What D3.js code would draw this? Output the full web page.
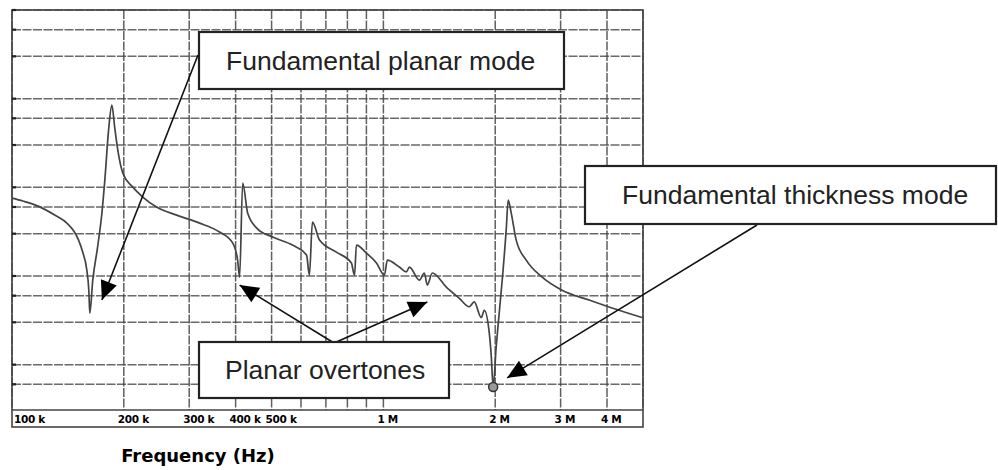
<!DOCTYPE html>
<html><head><meta charset="utf-8">
<script src="https://cdn.jsdelivr.net/npm/d3@7"></script>
<style>html,body{margin:0;padding:0;background:#fff;}svg{display:block;}</style>
</head><body>
<svg id="chart" width="998" height="470"></svg>
<script>
// ---- data (frequency in kHz, impedance in ohm) ----
const freqKHz = [100,107,118,131,140.5,147,151,155,159,161,162,165,170,174.6,177.8,182,185.7,189,192.7,198.8,211.5,225,245,277.7,320,362,393,405,410,418,431,456,503,569,621,632,644,673,747,820,836,846,900,958,1006,1025,1104,1153,1175,1250,1289,1313,1354,1477,1601,1703,1756,1834,1869,1928,1951,1975,2012,2050,2089,2141,2168,2209,2278,2424,2676,3028,3579,4126,4968];
const impedance = [755,700,610,480,395,318,255,186,117,69,38,90,212,512,1206,4416,8450,4776,2628,1447,1005,776,599,486,395,313,235,151,97,1116,512,347,275,223,172,102,405,254,186,140,102,223,181,140,102,151,126,111,126,90,108,79,108,75,56,45,51,34,41,22.7,12.8,5.6,15.8,38,90,329,718,512,254,151,97,69,53.5,43.5,34];
const gridFreqs = [100,200,300,400,500,600,700,800,900,1000,2000,3000,4000,5000];
const gridZ = [6,10,30,60,100,300,600,1000,3000,6000,10000,30000,60000,100000];
const tickFreqs = [100,200,300,400,500,1000,2000,3000,4000];
const tickLabels = ["100 k","200 k","300 k","400 k","500 k","1 M","2 M","3 M","4 M"];
const markerFreq = [1975], markerZ = [5.6];
const notes = ["Fundamental planar mode","Fundamental thickness mode","Planar overtones"];
const arrowTipF = [174.6, 410, 1313, 2154];
const arrowTipZ = [53.5, 79, 51, 7.1];

const svg = d3.select("#chart");
const L = 12, R = 643, T = 10, B = 410;
const x = d3.scaleLog().domain([100, 5000]).range([L, R]);
const y = d3.scaleLog().domain([3, 100000]).range([B + 1, T]);

const gridColor = "#454545";
// grid
const g = svg.append("g");
g.selectAll("line.v").data(gridFreqs).join("line")
  .attr("x1", d => x(d)).attr("x2", d => x(d)).attr("y1", T).attr("y2", B)
  .attr("stroke", gridColor).attr("stroke-width", 1.5).attr("stroke-dasharray", "9,1.5").attr("opacity", 0.85);
g.selectAll("line.h").data(gridZ).join("line")
  .attr("x1", L).attr("x2", R).attr("y1", d => y(d)).attr("y2", d => y(d))
  .attr("stroke", gridColor).attr("stroke-width", 1.5).attr("stroke-dasharray", "9,1.5").attr("opacity", 0.8);
// frame
g.append("rect").attr("x", L).attr("y", T).attr("width", R - L).attr("height", 427 - T)
  .attr("fill", "none").attr("stroke", "#444").attr("stroke-width", 1.6);
g.append("line").attr("x1", L).attr("x2", R).attr("y1", B).attr("y2", B)
  .attr("stroke", "#444").attr("stroke-width", 1.6);
// left-side tick marks
g.selectAll("line.lt").data(gridZ).join("line")
  .attr("x1", L).attr("x2", L + 4).attr("y1", d => y(d)).attr("y2", d => y(d))
  .attr("stroke", "#222").attr("stroke-width", 2.2);

// tick labels
svg.append("g").selectAll("text").data(tickFreqs).join("text")
  .attr("x", (d, i) => i === 0 ? x(d) + 2 : x(d) - 6)
  .attr("y", 423)
  .attr("font-family", "DejaVu Sans, sans-serif").attr("font-weight", "bold")
  .attr("font-size", 10.5).attr("letter-spacing", -0.3).attr("fill", "#000")
  .text((d, i) => tickLabels[i]);

// curve
const pts = freqKHz.map((f, i) => [f, impedance[i]]);
svg.append("path").datum(pts)
  .attr("d", d3.line().x(d => x(d[0])).y(d => y(d[1])).curve(d3.curveMonotoneX))
  .attr("fill", "none").attr("stroke", "#444").attr("stroke-width", 1.7).attr("stroke-linejoin", "round");
svg.selectAll("circle.m").data(markerFreq).join("circle")
  .attr("cx", d => x(d)).attr("cy", (d, i) => y(markerZ[i])).attr("r", 4.5)
  .attr("fill", "#999").attr("stroke", "#333").attr("stroke-width", 1.5);

// annotations
function arrow(x0, y0, x1, y1) {
  svg.append("line").attr("x1", x0).attr("y1", y0).attr("x2", x1).attr("y2", y1)
    .attr("stroke", "#111").attr("stroke-width", 1.6);
  const a = Math.atan2(y1 - y0, x1 - x0), len = 19, hw = 8.5;
  const bx = x1 - len * Math.cos(a), by = y1 - len * Math.sin(a);
  const px = -Math.sin(a) * hw, py = Math.cos(a) * hw;
  svg.append("polygon").attr("points", `${x1},${y1} ${bx + px},${by + py} ${bx - px},${by - py}`).attr("fill", "#000");
}
arrow(198, 55, x(arrowTipF[0]), y(arrowTipZ[0]));
arrow(334, 343, x(arrowTipF[1]), y(arrowTipZ[1]));
arrow(334, 343, x(arrowTipF[2]), y(arrowTipZ[2]));
arrow(757, 225, x(arrowTipF[3]), y(arrowTipZ[3]));

const boxes = [
  {x: 199, y: 32, w: 365, h: 57, tx: 226},
  {x: 585, y: 166, w: 411, h: 58, tx: 622},
  {x: 199, y: 342, w: 250, h: 56, tx: 225}
];
boxes.forEach((b, i) => {
  svg.append("rect").attr("x", b.x).attr("y", b.y).attr("width", b.w).attr("height", b.h)
    .attr("fill", "#fff").attr("stroke", "#222").attr("stroke-width", 2.2);
  svg.append("text").attr("x", b.tx).attr("y", b.y + b.h / 2 + 9)
    .attr("font-family", "Liberation Sans, Arial, sans-serif").attr("font-size", 26.5).attr("fill", "#222")
    .text(notes[i]);
});

svg.append("text").attr("x", 198).attr("y", 462).attr("text-anchor", "middle")
  .attr("font-family", "DejaVu Sans, sans-serif").attr("font-weight", "bold").attr("font-size", 18)
  .attr("fill", "#000").text("Frequency (Hz)");
</script>
</body></html>
